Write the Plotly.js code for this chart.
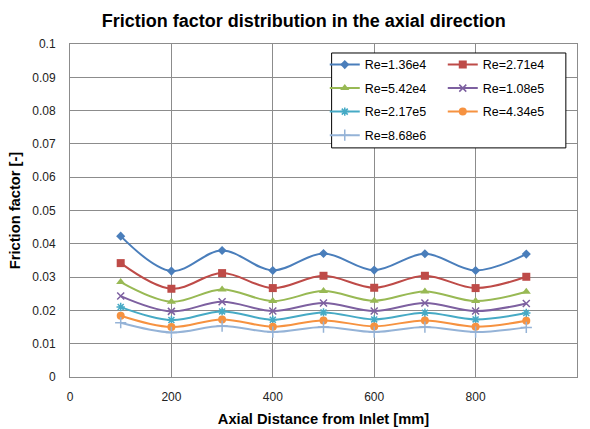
<!DOCTYPE html>
<html>
<head>
<meta charset="utf-8">
<script src="https://cdn.plot.ly/plotly-3.0.1.min.js"></script>
<style>html,body{margin:0;padding:0;background:#fff;}#chart{width:590px;height:429px;}</style>
</head>
<body>
<div id="chart"></div>
<script>
// Axial distance from inlet [mm]
const distance = [100, 200, 300, 400, 500, 600, 700, 800, 900];

const seriesNames = ["Re=1.36e4", "Re=2.71e4", "Re=5.42e4", "Re=1.08e5", "Re=2.17e5", "Re=4.34e5", "Re=8.68e6"];

const re136e4 = [0.0423, 0.0318, 0.0380, 0.0320, 0.0371, 0.0321, 0.0370, 0.0320, 0.0369];
const re271e4 = [0.0342, 0.0265, 0.0312, 0.0267, 0.0304, 0.0268, 0.0304, 0.0267, 0.0301];
const re542e4 = [0.0285, 0.0226, 0.0263, 0.0228, 0.0258, 0.0229, 0.0257, 0.0228, 0.0256];
const re108e5 = [0.0243, 0.0197, 0.0226, 0.0198, 0.0222, 0.0198, 0.0222, 0.0198, 0.0221];
const re217e5 = [0.0210, 0.0171, 0.0197, 0.0172, 0.0194, 0.0173, 0.0193, 0.0173, 0.0192];
const re434e5 = [0.0184, 0.0150, 0.0173, 0.0151, 0.0170, 0.0152, 0.0170, 0.0151, 0.0169];
const re868e6 = [0.0163, 0.0134, 0.0153, 0.0135, 0.0150, 0.0135, 0.0150, 0.0135, 0.0149];

const xTickVals = [0, 200, 400, 600, 800, 1000];
const yTickVals = [0, 0.01, 0.02, 0.03, 0.04, 0.05, 0.06, 0.07, 0.08, 0.09, 0.1];
const yTickText = ["0", "0.01", "0.02", "0.03", "0.04", "0.05", "0.06", "0.07", "0.08", "0.09", "0.1"];

const allValues = [re136e4, re271e4, re542e4, re108e5, re217e5, re434e5, re868e6];
const colors = ["#4A7EBB", "#BE4B48", "#98B954", "#7D60A0", "#46AAC5", "#F69240", "#95B3D7"];
const symbols = ["diamond", "square", "triangle-up", "x-thin-open", "asterisk-open", "circle", "cross-thin-open"];
const sizes = [7, 8, 8, 7, 7, 8, 8];
const legendIds = ["legend", "legend", "legend2", "legend2", "legend3", "legend3", "legend4"];

const traces = allValues.map((vals, i) => {
  const thin = symbols[i].indexOf("open") >= 0;
  return {
    type: "scatter",
    mode: "lines+markers",
    name: seriesNames[i],
    x: distance,
    y: vals,
    line: {color: colors[i], width: 2, shape: "spline", smoothing: 1},
    marker: {symbol: symbols[i], size: sizes[i], color: colors[i],
             line: {color: colors[i], width: thin ? 1.5 : 0}},
    legend: legendIds[i]
  };
});

const legendBase = {
  orientation: "h", x: 0.5025, xanchor: "left", yanchor: "middle",
  bgcolor: "rgba(0,0,0,0)", borderwidth: 0, entrywidth: 73, itemwidth: 30,
  font: {family: "Liberation Sans, Arial, sans-serif", size: 12.5, color: "#000"}
};

const layout = {
  width: 590, height: 429,
  margin: {l: 70, r: 13, t: 44, b: 52},
  paper_bgcolor: "#fff", plot_bgcolor: "#fff",
  font: {family: "Liberation Sans, Arial, sans-serif", color: "#222"},
  title: {text: "<b>Friction factor distribution in the axial direction</b>",
          font: {size: 18, color: "#000"}, x: 0.515, xref: "container", xanchor: "center",
          y: 0.951, yref: "container", yanchor: "middle"},
  xaxis: {range: [0, 1000], tickvals: xTickVals, ticktext: xTickVals.map(String),
          showgrid: true, gridcolor: "#8c8c8c", gridwidth: 1,
          showline: true, linecolor: "#8c8c8c", linewidth: 1, mirror: true,
          zeroline: false, ticks: "", ticklabelstandoff: 9,
          tickfont: {size: 12, color: "#222"},
          title: {text: "<b>Axial Distance from Inlet [mm]</b>", font: {size: 14.7, color: "#000"}, standoff: 10}},
  yaxis: {range: [0, 0.1], tickvals: yTickVals, ticktext: yTickText,
          showgrid: true, gridcolor: "#8c8c8c", gridwidth: 1,
          showline: true, linecolor: "#8c8c8c", linewidth: 1, mirror: true,
          zeroline: false, ticks: "", ticklabelstandoff: 11,
          tickfont: {size: 12, color: "#222"},
          title: {text: "<b>Friction factor [-]</b>", font: {size: 14.7, color: "#000"}, standoff: 8}},
  legend: Object.assign({}, legendBase, {y: 0.937}),
  legend2: Object.assign({}, legendBase, {y: 0.8664}),
  legend3: Object.assign({}, legendBase, {y: 0.7958}),
  legend4: Object.assign({}, legendBase, {y: 0.7252}),
  shapes: [{type: "rect", xref: "paper", yref: "paper", x0: 0.516, x1: 0.978, y0: 0.688, y1: 0.973,
            fillcolor: "#fff", line: {color: "#000", width: 1}, layer: "above"}],
  showlegend: true
};

Plotly.newPlot("chart", traces, layout, {displayModeBar: false, staticPlot: true});
</script>
</body>
</html>
